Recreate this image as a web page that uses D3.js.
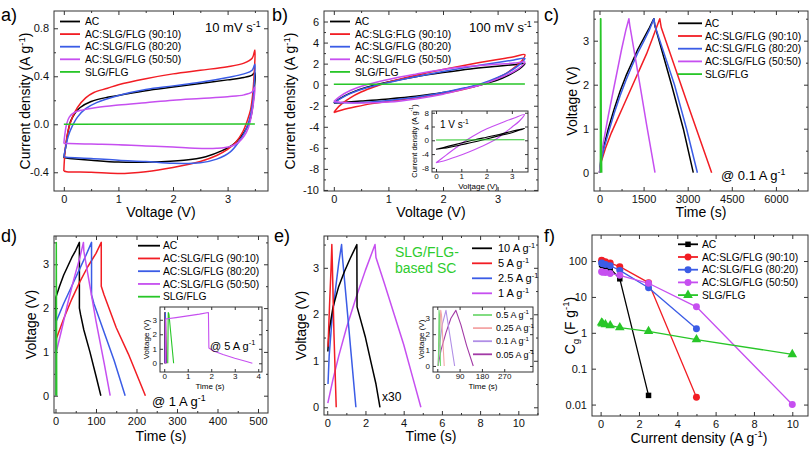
<!DOCTYPE html>
<html><head><meta charset="utf-8">
<script src="https://cdn.jsdelivr.net/npm/d3@7"></script>
<style>body{margin:0;background:#fff}svg{display:block}text{font-family:"Liberation Sans",Arial,sans-serif}</style>
</head><body><svg id="chart" width="810" height="450"></svg>
<script>
// ---------- DATA ----------
const seriesNames = ["AC","AC:SLG/FLG (90:10)","AC:SLG/FLG (80:20)","AC:SLG/FLG (50:50)","SLG/FLG"];
const seriesNamesB = ["AC","AC:SLG:FLG (90:10)","AC:SLG/FLG (80:20)","AC:SLG/FLG (50:50)","SLG/FLG"];
// (a) CV 10 mV/s  [V, A/g]
const aAC = [[0,-0.28],[0.03,-0.2],[0.07,-0.08],[0.12,0.02],[0.2,0.09],[0.3,0.14],[0.5,0.19],[0.8,0.225],[1.0,0.24],[1.5,0.28],[2.0,0.31],[2.5,0.34],[3.0,0.37],[3.3,0.39],[3.45,0.41],[3.5,0.43],[3.49,0.3],[3.46,0.15],[3.42,0.05],[3.35,-0.03],[3.25,-0.1],[3.1,-0.17],[2.9,-0.22],[2.6,-0.27],[2.2,-0.3],[1.6,-0.315],[1.0,-0.315],[0.5,-0.3],[0.1,-0.285],[0,-0.28]];
const a9010 = [[0,-0.39],[0.01,-0.3],[0.04,-0.15],[0.08,-0.05],[0.15,0.05],[0.25,0.14],[0.4,0.22],[0.55,0.265],[0.8,0.3],[1.0,0.33],[1.5,0.38],[2.0,0.42],[2.5,0.45],[3.0,0.48],[3.3,0.51],[3.45,0.55],[3.5,0.62],[3.49,0.45],[3.46,0.25],[3.42,0.12],[3.36,0.03],[3.28,-0.06],[3.15,-0.15],[3.0,-0.21],[2.8,-0.26],[2.5,-0.31],[2.0,-0.36],[1.5,-0.395],[1.0,-0.41],[0.5,-0.4],[0.05,-0.395],[0,-0.39]];
const a8020 = [[0,-0.27],[0.03,-0.2],[0.08,-0.1],[0.15,-0.02],[0.25,0.06],[0.4,0.13],[0.6,0.18],[1.0,0.24],[1.5,0.29],[2.0,0.32],[2.5,0.35],[3.0,0.39],[3.3,0.42],[3.45,0.45],[3.5,0.5],[3.49,0.35],[3.46,0.18],[3.4,0.04],[3.32,-0.06],[3.2,-0.15],[3.05,-0.23],[2.8,-0.29],[2.5,-0.32],[2.0,-0.325],[1.5,-0.31],[1.0,-0.3],[0.5,-0.285],[0.05,-0.275],[0,-0.27]];
const a5050 = [[0,-0.16],[0.02,-0.08],[0.05,0.0],[0.1,0.06],[0.2,0.1],[0.35,0.12],[0.6,0.14],[1.0,0.16],[1.5,0.18],[2.0,0.2],[2.5,0.215],[3.0,0.23],[3.3,0.245],[3.45,0.27],[3.5,0.31],[3.48,0.2],[3.44,0.08],[3.38,-0.03],[3.3,-0.1],[3.2,-0.15],[3.05,-0.185],[2.8,-0.2],[2.4,-0.2],[2.0,-0.19],[1.5,-0.18],[1.0,-0.17],[0.5,-0.165],[0.1,-0.16],[0,-0.16]];
const aSLG = [[0,0],[3.5,0.003]];
// (b) CV 100 mV/s
const bAC = [[0,-1.75],[0.1,-1.35],[0.3,-0.8],[0.6,-0.25],[1.0,0.25],[1.5,0.75],[2.0,1.15],[2.5,1.5],[3.0,1.75],[3.3,1.9],[3.5,2.0],[3.4,1.5],[3.2,0.9],[3.0,0.45],[2.7,0.0],[2.4,-0.35],[2.0,-0.75],[1.5,-1.1],[1.0,-1.35],[0.5,-1.55],[0.2,-1.68],[0,-1.75]];
const b9010 = [[0,-2.65],[0.05,-2.3],[0.15,-1.8],[0.3,-1.25],[0.5,-0.7],[0.8,-0.1],[1.0,0.25],[1.5,0.9],[2.0,1.45],[2.5,1.95],[3.0,2.4],[3.3,2.65],[3.5,2.85],[3.45,2.3],[3.3,1.6],[3.1,0.9],[2.8,0.2],[2.5,-0.3],[2.0,-0.85],[1.5,-1.25],[1.0,-1.6],[0.7,-1.8],[0.4,-2.1],[0.15,-2.4],[0,-2.65]];
const b8020 = [[0,-1.7],[0.1,-1.4],[0.3,-0.85],[0.6,-0.3],[1.0,0.2],[1.5,0.75],[2.0,1.25],[2.5,1.7],[3.0,2.1],[3.3,2.35],[3.5,2.5],[3.4,1.9],[3.2,1.2],[3.0,0.7],[2.7,0.1],[2.4,-0.3],[2.0,-0.75],[1.5,-1.2],[1.0,-1.5],[0.5,-1.7],[0.2,-1.72],[0,-1.7]];
const b5050 = [[0,-1.6],[0.1,-1.15],[0.3,-0.55],[0.6,0.0],[1.0,0.5],[1.5,1.0],[2.0,1.45],[2.5,1.75],[3.0,1.95],[3.3,2.05],[3.5,2.15],[3.4,1.6],[3.2,1.0],[3.0,0.55],[2.7,0.0],[2.4,-0.4],[2.0,-0.9],[1.5,-1.35],[1.0,-1.65],[0.5,-1.75],[0.2,-1.7],[0,-1.6]];
const bSLG = [[0,0.05],[3.5,0.06]];
// (b inset) CV 1 V/s
const biAC = [[0,-2.6],[0.5,-1.7],[1.0,-0.8],[1.5,0.1],[2.0,0.9],[2.5,1.7],[3.0,2.6],[3.5,3.5],[3.0,2.2],[2.5,1.3],[2.0,0.4],[1.5,-0.5],[1.0,-1.3],[0.5,-2.1],[0,-2.6]];
const bi5050 = [[0,-6.5],[0.4,-4.3],[0.8,-2.1],[1.2,0.0],[1.7,2.2],[2.2,3.9],[2.7,5.4],[3.1,6.5],[3.5,7.5],[3.3,5.6],[3.0,3.8],[2.6,1.5],[2.3,0.0],[1.8,-1.8],[1.3,-3.4],[0.8,-4.8],[0.3,-6.0],[0,-6.5]];
const biSLG = [[0,0.1],[3.5,0.15]];
// (c) GCD 0.1 A/g  [s, V]
const cAC = [[0,0],[50,0.3],[150,0.6],[300,1.0],[500,1.45],[700,1.85],[900,2.2],[1100,2.5],[1300,2.8],[1500,3.05],[1700,3.3],[1850,3.5],[1880,3.35],[2450,2.0],[2850,1.0],[3190,0]];
const c9010 = [[0,0],[60,0.25],[200,0.55],[400,0.9],[600,1.2],[800,1.5],[1000,1.8],[1200,2.1],[1400,2.4],[1600,2.7],[1800,3.05],[2050,3.5],[2100,3.3],[2950,1.65],[3815,0]];
const c8020 = [[0,0],[50,0.25],[150,0.55],[300,0.9],[500,1.35],[700,1.75],[900,2.1],[1100,2.42],[1300,2.72],[1500,2.98],[1700,3.25],[1850,3.5],[1890,3.33],[2550,2.0],[2960,1.0],[3330,0]];
const c5050 = [[0,0],[40,0.3],[150,0.75],[300,1.3],[450,1.8],[600,2.3],[750,2.8],[900,3.25],[1000,3.5],[1030,3.35],[1400,1.9],[1600,1.1],[1888,0]];
const cSLG = [[30,0],[35,3.5],[45,3.5],[60,1.0],[75,0]];
// (d) GCD 1 A/g
const dAC = [[1,0],[1,2.25],[10,2.5],[20,2.75],[30,2.95],[40,3.15],[50,3.32],[59,3.5],[59,2.0],[62,1.85],[70,1.5],[85,1.0],[100,0.45],[112,0]];
const d9010 = [[1,0],[2,1.3],[20,1.75],[40,2.2],[60,2.6],[80,2.95],[100,3.25],[113,3.5],[113,2.5],[120,2.3],[150,1.55],[180,0.95],[222,0]];
const d8020 = [[1,0],[2,1.7],[20,2.1],[40,2.5],[60,2.9],[75,3.2],[89,3.5],[89,2.3],[95,2.1],[120,1.45],[145,0.8],[172,0]];
const d5050 = [[1,0],[2,1.0],[15,1.5],[30,2.1],[45,2.65],[60,3.15],[69,3.5],[70,3.3],[85,2.5],[100,1.7],[120,0.75],[135,0]];
const dSLG = [[1,0],[2,3.5],[3,0]];
// (d inset) GCD 5 A/g
const diAC = [[0.02,0],[0.03,3.5],[0.06,0]];
const di9010 = [[0.03,0],[0.05,3.5],[0.1,0]];
const di8020 = [[0.03,0],[0.05,3.5],[0.08,0]];
const di5050 = [[0.05,0],[0.06,3.05],[0.5,3.15],[1.0,3.27],[1.5,3.39],[1.88,3.5],[1.9,1.05],[2.1,0.85],[2.5,0.6],[3.0,0.35],[3.5,0.12],[3.75,0]];
const diSLG = [[0.15,0],[0.17,3.5],[0.2,3.4],[0.4,0]];
// (e) SLG/FLG GCD
const eLabels = ["10 A g^{-1}","5 A g^{-1}","2.5 A g^{-1}","1 A g^{-1}"];
const e10 = [[0.03,1.2],[0.1,1.65],[0.3,2.15],[0.6,2.6],[0.9,2.92],[1.2,3.2],[1.55,3.5],[1.56,2.16],[1.7,1.95],[2.0,1.5],[2.3,0.95],[2.55,0.5],[2.76,0]];
const e5 = [[0.04,1.3],[0.12,2.2],[0.2,3.0],[0.24,3.5],[0.26,3.2],[0.35,1.6],[0.47,0]];
const e25 = [[0.04,0.5],[0.1,1.1],[0.25,1.9],[0.45,2.6],[0.6,3.1],[0.75,3.5],[0.78,3.3],[1.0,2.3],[1.25,1.15],[1.5,0]];
const e1 = [[0.03,0.09],[0.3,0.6],[0.6,1.1],[1.0,1.7],[1.5,2.35],[2.0,2.95],[2.5,3.5],[2.55,3.22],[3.0,2.65],[3.5,2.0],[4.0,1.35],[4.5,0.6],[4.9,0]];
// (e inset)
const eiLabels = ["0.5 A g^{-1}","0.25 A g^{-1}","0.1 A g^{-1}","0.05 A g^{-1}"];
const ei05 = [[4,0],[5,1.0],[7,3.5],[9,3.2],[13,0]];
const ei025 = [[4,0],[6,1.2],[14,3.5],[17,3.2],[28,0]];
const ei01 = [[3,0],[8,1.2],[20,2.6],[35,3.5],[45,2.5],[70,0]];
const ei005 = [[3,0],[15,1.0],[35,2.1],[55,3.0],[75,3.5],[95,2.6],[118,1.3],[145,0]];
// (f) capacitance vs current density
const fX = [0.05,0.1,0.25,0.5,1,2.5,5,10];
const fAC = [80,75,70,62,32,0.018];
const f9010 = [105,100,95,88,70,25,0.016];
const f8020 = [88,84,80,74,55,18,1.3];
const f5050 = [50,49,48,45,40,24,5.3,0.01];
const fSLG = [1.9,1.8,1.7,1.6,1.4,1.1,0.65,0.25];

// ---------- DRAW ----------
const COL = ["#000000","#f21d24","#3b5ce6","#c64ff0","#28c628"];
const svg = d3.select("#chart");
const defs = svg.append("defs");
let clipN = 0;

function rich(g, x, y, s, o = {}) {
  const size = o.size || 11;
  const t = g.append("text").attr("font-size", size).attr("fill", o.fill || "#000")
    .attr("text-anchor", o.anchor || "start");
  if (o.rotate) t.attr("transform", `translate(${x},${y}) rotate(-90)`).attr("y", size * 0.35);
  else t.attr("x", x).attr("y", y);
  const parts = s.split(/(\^\{[^}]*\}|_\{[^}]*\})/).filter(p => p.length);
  let shift = 0;
  parts.forEach(p => {
    let txt = p, fs = size, dy;
    if (p.startsWith("^{")) { txt = p.slice(2, -1); fs = size * 0.68; dy = -size * 0.42 - shift; shift = -size * 0.42; }
    else if (p.startsWith("_{")) { txt = p.slice(2, -1); fs = size * 0.7; dy = size * 0.28 - shift; shift = size * 0.28; }
    else { dy = -shift; shift = 0; }
    t.append("tspan").attr("font-size", fs).attr("dy", dy).text(txt);
  });
  return t;
}

function panel(o) {
  const g = svg.append("g");
  const x = (o.xlog ? d3.scaleLog() : d3.scaleLinear()).domain(o.xd).range([o.l, o.r]);
  const y = (o.ylog ? d3.scaleLog() : d3.scaleLinear()).domain(o.yd).range([o.b, o.t]);
  g.append("rect").attr("x", o.l).attr("y", o.t).attr("width", o.r - o.l).attr("height", o.b - o.t).attr("fill", "#fff");
  const id = "clip" + (clipN++);
  defs.append("clipPath").attr("id", id).append("rect").attr("x", o.l).attr("y", o.t).attr("width", o.r - o.l).attr("height", o.b - o.t);
  const fs = o.fs || 11, tl = o.tl || 4, pad = (o.pad !== undefined) ? o.pad : 4;
  const st = s => {
    s.select(".domain").remove();
    s.selectAll("line").attr("stroke", "#333");
    s.selectAll("text").attr("font-size", fs).attr("fill", "#111").attr("font-family", '"Liberation Sans",Arial,sans-serif');
  };
  const xf = o.xf || (d => d), yf = o.yf || (d => d);
  const ax = g.append("g");
  ax.append("g").attr("transform", `translate(0,${o.b})`).call(d3.axisBottom(x).tickValues(o.xt).tickFormat(xf).tickSizeInner(-tl).tickSizeOuter(0).tickPadding(pad)).call(st);
  ax.append("g").attr("transform", `translate(0,${o.t})`).call(d3.axisTop(x).tickValues(o.xt).tickFormat("").tickSizeInner(-tl).tickSizeOuter(0)).call(st);
  ax.append("g").attr("transform", `translate(${o.l},0)`).call(d3.axisLeft(y).tickValues(o.yt).tickFormat(yf).tickSizeInner(-tl).tickSizeOuter(0).tickPadding(o.ypad || 5)).call(st);
  ax.append("g").attr("transform", `translate(${o.r},0)`).call(d3.axisRight(y).tickValues(o.yt).tickFormat("").tickSizeInner(-tl).tickSizeOuter(0)).call(st);
  if (o.xm) {
    ax.append("g").attr("transform", `translate(0,${o.b})`).call(d3.axisBottom(x).tickValues(o.xm).tickFormat("").tickSizeInner(-tl / 2).tickSizeOuter(0)).call(st);
    ax.append("g").attr("transform", `translate(0,${o.t})`).call(d3.axisTop(x).tickValues(o.xm).tickFormat("").tickSizeInner(-tl / 2).tickSizeOuter(0)).call(st);
  }
  if (o.ym) {
    ax.append("g").attr("transform", `translate(${o.l},0)`).call(d3.axisLeft(y).tickValues(o.ym).tickFormat("").tickSizeInner(-tl / 2).tickSizeOuter(0)).call(st);
    ax.append("g").attr("transform", `translate(${o.r},0)`).call(d3.axisRight(y).tickValues(o.ym).tickFormat("").tickSizeInner(-tl / 2).tickSizeOuter(0)).call(st);
  }
  const plot = g.append("g").attr("clip-path", `url(#${id})`);
  const frame = () => g.append("rect").attr("x", o.l).attr("y", o.t).attr("width", o.r - o.l).attr("height", o.b - o.t)
    .attr("fill", "none").attr("stroke", "#333").attr("stroke-width", 1);
  return { g, plot, x, y, frame };
}

function drawLine(P, data, color, w = 1.5, smooth = false) {
  const line = d3.line().x(d => P.x(d[0])).y(d => P.y(d[1]))
    .curve(smooth ? d3.curveCatmullRom.alpha(0.5) : d3.curveLinear);
  P.plot.append("path").datum(data).attr("d", line).attr("fill", "none")
    .attr("stroke", color).attr("stroke-width", w).attr("stroke-linejoin", "round");
}

function legend(g, labels, colors, o) {
  labels.forEach((lab, i) => {
    const yy = o.y0 + i * o.dy;
    g.append("line").attr("x1", o.x1).attr("x2", o.x2).attr("y1", yy).attr("y2", yy)
      .attr("stroke", colors[i]).attr("stroke-width", o.w || 1.8);
    if (o.markers) o.markers(g, i, (o.x1 + o.x2) / 2, yy);
    rich(g, o.tx, yy + o.size * 0.36, lab, { size: o.size });
  });
}

const lab = (t, x, y) => svg.append("text").attr("x", x).attr("y", y).attr("font-size", 18).text(t);

// ----- (a)
const A = panel({ l: 54, r: 268, t: 11, b: 191, xd: [-0.18, 3.74], yd: [-0.556, 0.944], xt: [0, 1, 2, 3], xm: [0.5, 1.5, 2.5, 3.5], yt: [-0.4, 0, 0.4, 0.8], ym: [-0.2, 0.2, 0.6], yf: d => d.toFixed(1) });
[aAC, a9010, a8020, a5050, aSLG].forEach((d, i) => drawLine(A, d, COL[i], 1.5, true));
A.frame();
legend(A.g, seriesNames, COL, { x1: 60, x2: 80, tx: 85, y0: 21.5, dy: 12.6, size: 10.3 });
rich(A.g, 205, 32, "10 mV s^{-1}", { size: 13 });
rich(svg, 25.5, 101, "Current density (A g^{-1})", { size: 14, rotate: true, anchor: "middle" });
rich(svg, 161, 217, "Voltage (V)", { size: 14, anchor: "middle" });
lab("a)", 1, 21);

// ----- (b)
const B = panel({ l: 324, r: 538, t: 11, b: 191, xd: [-0.18, 3.74], yd: [-10.1, 7], xt: [0, 1, 2, 3], xm: [0.5, 1.5, 2.5, 3.5], yt: [-10, -8, -6, -4, -2, 0, 2, 4, 6], ym: [-9, -7, -5, -3, -1, 1, 3, 5] });
[bAC, b9010, b8020, b5050, bSLG].forEach((d, i) => drawLine(B, d, COL[i], 1.5, true));
B.frame();
legend(B.g, seriesNamesB, COL, { x1: 330, x2: 350, tx: 355, y0: 21.5, dy: 12.6, size: 10.3 });
rich(B.g, 469, 32, "100 mV s^{-1}", { size: 13 });
rich(svg, 290.5, 101, "Current density (A g^{-1})", { size: 14, rotate: true, anchor: "middle" });
rich(svg, 431, 217, "Voltage (V)", { size: 14, anchor: "middle" });
lab("b)", 272, 21);
// inset
const BI = panel({ l: 432, r: 528, t: 111, b: 172, xd: [-0.16, 3.64], yd: [-9.2, 8.5], xt: [0, 1, 2, 3], yt: [-8, -4, 0, 4, 8], fs: 8, tl: 3, pad: 1, ypad: 3 });
drawLine(BI, bi5050, COL[3], 1.1, true);
drawLine(BI, biAC, COL[0], 1.1, true);
drawLine(BI, biSLG, COL[4], 1.1, false);
BI.frame();
rich(BI.g, 440, 128, "1 V s^{-1}", { size: 10 });
rich(svg, 414, 141, "Current density (A g^{-1})", { size: 7.5, rotate: true, anchor: "middle" });
rich(svg, 478, 189, "Voltage (V)", { size: 8, anchor: "middle" });

// ----- (c)
const C = panel({ l: 594, r: 808, t: 11, b: 191, xd: [-187, 7092], yd: [-0.416, 3.675], xt: [0, 1500, 3000, 4500, 6000], xm: [750, 2250, 3750, 5250, 6750], yt: [0, 1, 2, 3], ym: [0.5, 1.5, 2.5, 3.5] });
[cAC, c9010, c8020, c5050, cSLG].forEach((d, i) => drawLine(C, d, COL[i], 1.5, false));
C.frame();
legend(C.g, seriesNames, COL, { x1: 678, x2: 702, tx: 705, y0: 23.3, dy: 12.7, size: 10.3 });
rich(C.g, 721, 180, "@ 0.1 A g^{-1}", { size: 13 });
rich(svg, 572.5, 101, "Voltage (V)", { size: 14, rotate: true, anchor: "middle" });
rich(svg, 701, 217, "Time (s)", { size: 14, anchor: "middle" });
lab("c)", 544, 21);

// ----- (d)
const D = panel({ l: 54, r: 268, t: 236, b: 413, xd: [-3.7, 524.7], yd: [-0.395, 3.646], xt: [0, 100, 200, 300, 400, 500], xm: [50, 150, 250, 350, 450], yt: [0, 1, 2, 3], ym: [0.5, 1.5, 2.5, 3.5] });
[dAC, d9010, d8020, d5050, dSLG].forEach((d, i) => drawLine(D, d, COL[i], 1.5, false));
D.frame();
legend(D.g, seriesNames, COL, { x1: 138, x2: 160, tx: 163, y0: 245.7, dy: 12.75, size: 10.3 });
rich(D.g, 152, 406, "@ 1 A g^{-1}", { size: 13 });
rich(svg, 31, 324.5, "Voltage (V)", { size: 14, rotate: true, anchor: "middle" });
rich(svg, 161, 441, "Time (s)", { size: 14, anchor: "middle" });
lab("d)", 1, 242);
// inset
const DI = panel({ l: 160, r: 262, t: 307, b: 372, xd: [-0.18, 4.16], yd: [-0.6, 3.88], xt: [0, 1, 2, 3, 4], yt: [0, 1, 2, 3], fs: 8, tl: 3, pad: 1, ypad: 3 });
[diAC, di9010, di8020, diSLG, di5050].forEach((d, i) => drawLine(DI, d, [COL[0], COL[1], COL[2], COL[4], COL[3]][i], 1.1, false));
DI.frame();
rich(DI.g, 210, 350, "@ 5 A g^{-1}", { size: 11 });
rich(svg, 146, 339.5, "Voltage (V)", { size: 8, rotate: true, anchor: "middle" });
rich(svg, 210, 389, "Time (s)", { size: 8, anchor: "middle" });

// ----- (e)
const E = panel({ l: 324, r: 538, t: 236, b: 415, xd: [-0.17, 11.03], yd: [-0.166, 3.684], xt: [0, 2, 4, 6, 8, 10], xm: [1, 3, 5, 7, 9, 11], yt: [0, 1, 2, 3], ym: [0.5, 1.5, 2.5, 3.5] });
const eCols = [COL[0], COL[1], COL[2], COL[3]];
[e1, e25, e10, e5].forEach((d, i) => drawLine(E, d, [COL[3], COL[2], COL[0], COL[1]][i], 1.5, false));
E.frame();
legend(E.g, eLabels, eCols, { x1: 472, x2: 492, tx: 498, y0: 248.3, dy: 15, size: 11 });
E.g.append("text").attr("x", 395).attr("y", 257).attr("font-size", 14).attr("fill", "#2ecc2e").text("SLG/FLG-");
E.g.append("text").attr("x", 395).attr("y", 273).attr("font-size", 14).attr("fill", "#2ecc2e").text("based SC");
E.g.append("text").attr("x", 382).attr("y", 401).attr("font-size", 12).text("x30");
rich(svg, 301, 325.5, "Voltage (V)", { size: 14, rotate: true, anchor: "middle" });
rich(svg, 431, 441, "Time (s)", { size: 14, anchor: "middle" });
lab("e)", 274, 242);
// inset
const eiCols = ["#74d874", "#f4a6a6", "#b08ee6", "#a23aa6"];
const EI = panel({ l: 433, r: 533, t: 307, b: 372, xd: [-17.3, 386], yd: [-0.38, 3.71], xt: [0, 90, 180, 270], yt: [0, 1, 2, 3], fs: 8, tl: 3, pad: 1, ypad: 3 });
[ei005, ei01, ei025, ei05].forEach((d, i) => drawLine(EI, d, [eiCols[3], eiCols[2], eiCols[1], eiCols[0]][i], 1.1, false));
EI.frame();
legend(EI.g, eiLabels, eiCols, { x1: 473, x2: 492, tx: 496, y0: 315, dy: 13.1, size: 9 });
rich(svg, 421, 339.5, "Voltage (V)", { size: 8, rotate: true, anchor: "middle" });
rich(svg, 483, 389, "Time (s)", { size: 8, anchor: "middle" });

// ----- (f)
const F = panel({ l: 592, r: 808, t: 235, b: 416, xd: [-0.45, 10.82], yd: [0.0048, 532], ylog: true, xt: [0, 2, 4, 6, 8, 10], xm: [1, 3, 5, 7, 9], yt: [0.01, 0.1, 1, 10, 100] });
const fSeries = [fAC, f9010, f8020, f5050, fSLG];
const sym = [d3.symbolSquare, d3.symbolCircle, d3.symbolCircle, d3.symbolCircle, d3.symbolTriangle];
const symSize = [30, 38, 38, 38, 40];
fSeries.forEach((vals, i) => {
  const pts = vals.map((v, j) => [fX[j], v]);
  drawLine(F, pts, COL[i], 1.3, false);
});
fSeries.forEach((vals, i) => {
  vals.forEach((v, j) => {
    F.plot.append("path").attr("d", d3.symbol(sym[i], symSize[i])())
      .attr("transform", `translate(${F.x(fX[j])},${F.y(v)})`).attr("fill", COL[i]);
  });
});
F.frame();
legend(F.g, seriesNames, COL, {
  x1: 678, x2: 698, tx: 702, y0: 244.3, dy: 12.7, size: 10.3,
  markers: (g, i, cx, cy) => g.append("path").attr("d", d3.symbol(sym[i], symSize[i])()).attr("transform", `translate(${cx},${cy})`).attr("fill", COL[i])
});
rich(svg, 570, 325.5, "C_{g} (F g^{-1})", { size: 14, rotate: true, anchor: "middle" });
rich(svg, 699, 443, "Current density (A g^{-1})", { size: 14, anchor: "middle" });
lab("f)", 544, 242);
</script></body></html>
